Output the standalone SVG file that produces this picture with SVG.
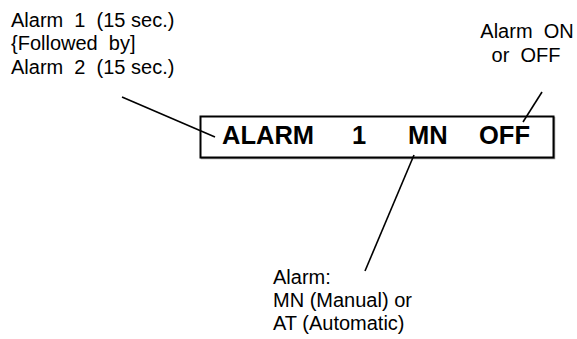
<svg xmlns="http://www.w3.org/2000/svg" width="577" height="339" viewBox="0 0 577 339">
<style>
.lbl{font-family:"Liberation Sans",Arial,sans-serif;font-size:20px;fill:#000;white-space:pre}
.big{font-family:"Liberation Sans",Arial,sans-serif;font-size:25.5px;font-weight:bold;fill:#000}
.ln{stroke:#000;stroke-width:1.6;fill:none}
</style>
<rect width="577" height="339" fill="#fff"/>
<g id="display">
<rect x="201.5" y="117.5" width="353" height="41" fill="none" stroke="#999" stroke-width="1.5"/>
<rect x="200.5" y="116.5" width="353" height="41" fill="#fff" stroke="#000" stroke-width="2"/>
<text class="big" x="222" y="144">ALARM</text>
<text class="big" x="352" y="144">1</text>
<text class="big" x="408" y="144">MN</text>
<text class="big" x="479" y="144">OFF</text>
</g>
<g id="label-sequence">
<text class="lbl" x="11" y="26.5" xml:space="preserve">Alarm  1  (15 sec.)</text>
<text class="lbl" x="11" y="50" xml:space="preserve">{Followed  by]</text>
<text class="lbl" x="11" y="73.5" xml:space="preserve">Alarm  2  (15 sec.)</text>
</g>
<g id="label-onoff">
<text class="lbl" x="527" y="38" text-anchor="middle" xml:space="preserve">Alarm  ON</text>
<text class="lbl" x="526" y="62" text-anchor="middle" xml:space="preserve">or  OFF</text>
</g>
<g id="label-mode">
<text class="lbl" x="273" y="284">Alarm:</text>
<text class="lbl" x="273" y="307">MN (Manual) or</text>
<text class="lbl" x="273" y="330">AT (Automatic)</text>
</g>
<g id="connectors">
<line class="ln" x1="122" y1="97" x2="215" y2="137"/>
<line class="ln" x1="542" y1="92" x2="523" y2="122"/>
<line class="ln" x1="414" y1="155" x2="365" y2="271"/>
</g>
</svg>
